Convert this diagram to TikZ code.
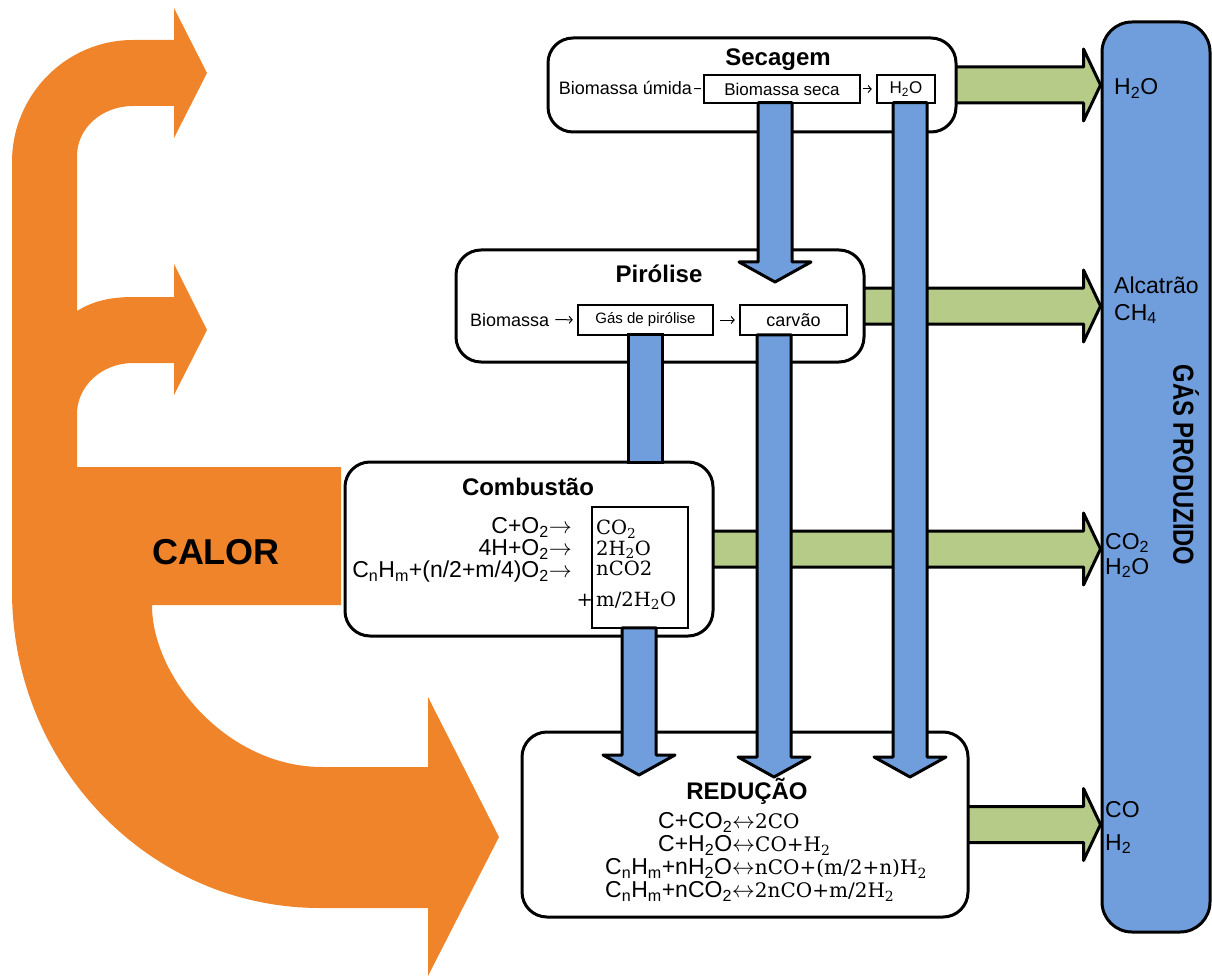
\documentclass[tikz,border=0pt]{standalone}
\usepackage{fix-cm}
\usepackage[no-math]{fontspec}
\setmainfont{Liberation Sans}
\newfontfamily\eqserif{DejaVu Serif}[Scale=0.87]
\usetikzlibrary{arrows.meta,calc}

\definecolor{heatorange}{RGB}{240,132,42}
\definecolor{gasblue}{RGB}{112,158,220}
\definecolor{flowgreen}{RGB}{183,203,136}

\pgfdeclarelayer{back}
\pgfsetlayers{back,main}

\tikzset{
  stage/.style={draw,line width=3pt,rounded corners=25pt,fill=white,inner sep=0pt},
  part/.style={draw,line width=2.5pt,fill=white,inner sep=0pt,minimum height=28pt,font=\fontsize{17}{20}\selectfont},
  stagetitle/.style={anchor=base,inner sep=0pt,font=\fontsize{24}{28}\selectfont\bfseries},
  txt/.style={inner sep=0pt,font=\fontsize{18}{21}\selectfont},
  eqn/.style={inner sep=0pt,font=\fontsize{23}{22}\selectfont},
  gaslabel/.style={anchor=base west,inner sep=0pt,font=\fontsize{23}{26}\selectfont},
  link/.style={line width=1pt,shorten <=2pt,shorten >=2pt},
  feed/.style={line width=1pt,shorten <=6pt,shorten >=4pt,-{Straight Barb[length=3pt,width=7pt]}},
  downflow/.style={draw=black,fill=gasblue,line width=3pt,line join=round,
    to path={let \p1=(\tikztostart), \p2=(\tikztotarget) in
      ({\x2-17pt},{\y1+1.5pt}) -- ({\x2-17pt},{\y2+20pt}) -- ({\x2-36pt},{\y2+20pt})
      -- (\x2,\y2) -- ({\x2+36pt},{\y2+20pt}) -- ({\x2+17pt},{\y2+20pt})
      -- ({\x2+17pt},{\y1+1.5pt}) -- cycle}},
  shaft/.style={draw=black,fill=gasblue,line width=3pt,
    to path={let \p1=(\tikztostart), \p2=(\tikztotarget) in
      ({\x1-17pt},{\y1+1.5pt}) rectangle ({\x1+17pt},{\y2-1.5pt})}},
  outflow/.style={draw=black,fill=flowgreen,line width=3pt,line join=round,
    to path={let \p1=(\tikztostart), \p2=(\tikztotarget) in
      ({\x1-6pt},{\y1+18pt}) -- ({\x2-17pt},{\y1+18pt}) -- ({\x2-17pt},{\y1+36pt})
      -- (\x2,\y1) -- ({\x2-17pt},{\y1-36pt}) -- ({\x2-17pt},{\y1-18pt})
      -- ({\x1-6pt},{\y1-18pt}) -- cycle}}
}

\begin{document}
\begin{tikzpicture}[x=1pt,y=-1pt]
\useasboundingbox (0,0) rectangle (1212,976);

%heat
\fill[heatorange] (207,73) -- (174,8) -- (174,40) -- (133,40)
  .. controls (66,40) and (12,95) .. (12,162) -- (12,591)
  .. controls (12,766) and (150,908) .. (320,908) -- (428,908) -- (428,976)
  -- (499,837) -- (428,697) -- (428,767) -- (322,767)
  .. controls (228,767) and (152,678) .. (152,605) -- (341,605) -- (341,467)
  -- (77,467) -- (77,414) .. controls (77,386) and (102,363) .. (133,363)
  -- (174,363) -- (174,395) -- (207,330) -- (174,264) -- (174,297) -- (133,297)
  .. controls (106,297) and (90,303) .. (77,311) -- (77,156)
  .. controls (77,128) and (102,106) .. (133,106) -- (174,106) -- (174,138) -- cycle;
\node[font=\fontsize{36}{40}\selectfont\bfseries] (calor) at (216,552) {CALOR};

%gas column
\node[draw,fill=gasblue,line width=3pt,rounded corners=30pt,minimum width=108pt,minimum height=910pt] (gas) at (1156,477) {};
\node[rotate=-90,font=\fontsize{29}{32}\selectfont\bfseries] (gastitle) at (1186,465) {\scalebox{0.82}[1]{GÁS PRODUZIDO}};

%secagem
\node[stage,minimum width=408pt,minimum height=94pt] (sec) at (752,85) {};
\node[stagetitle] (sectitle) at (778,66) {Secagem};
\node[txt,anchor=base east] (umida) at (692,95) {Biomassa úmida};
\node[part,minimum width=156pt] (bseca) at (782,89) {Biomassa seca};
\node[part,minimum width=58pt] (agua) at (906,89) {H\textsubscript{2}O};
\draw[link] (umida) -- (bseca);
\draw[feed,shorten <=2pt] (bseca) -- (agua);

%pirolise
\node[stage,minimum width=408pt,minimum height=112pt] (pir) at (660,306) {};
\node[stagetitle] (pirtitle) at (659,283) {Pirólise};
\node[txt,anchor=base west] (biom) at (470,326) {Biomassa};
\node[part,minimum width=135pt,minimum height=30pt,font=\fontsize{15}{18}\selectfont] (gasp) at (645.5,320) {Gás de pirólise};
\node[part,minimum width=107pt,minimum height=30pt,font=\fontsize{18}{21}\selectfont] (carvao) at (793.5,320) {carvão};
\draw[feed] (biom) -- (gasp);
\draw[feed] (gasp) -- (carvao);

%combustao
\node[stage,minimum width=368pt,minimum height=174pt] (comb) at (529,549) {};
\node[stagetitle] (combtitle) at (528,495) {Combustão};
\node[part,minimum width=96pt,minimum height=121pt] (prod) at (640,567.5) {};
\node[eqn,anchor=east,align=right] (reag) at (572,550)
  {C+O\textsubscript{2}$\rightarrow$\\4H+O\textsubscript{2}$\rightarrow$\\C\textsubscript{n}H\textsubscript{m}+(n/2+m/4)O\textsubscript{2}$\rightarrow$};
\node[eqn,anchor=west,align=left,font=\fontsize{22.5}{20.5}\selectfont\eqserif] (prodtxt) at (596,565)
  {CO\textsubscript{2}\\ 2H\textsubscript{2}O\\ nCO2\\[10pt] \llap{+\,}m/2H\textsubscript{2}O};

%reducao
\node[stage,minimum width=446pt,minimum height=185pt] (red) at (745,824.5) {};
\node[stagetitle] (redtitle) at (747,799) {REDUÇÃO};
\node[eqn,anchor=west,align=left,font=\fontsize{23}{23}\selectfont] (reac) at (605,857)
  {\hspace*{53pt}C+CO\textsubscript{2}$\leftrightarrow${\eqserif 2CO}\\
   \hspace*{53pt}C+H\textsubscript{2}O$\leftrightarrow${\eqserif CO+H\textsubscript{2}}\\
   C\textsubscript{n}H\textsubscript{m}+nH\textsubscript{2}O$\leftrightarrow${\eqserif nCO+(m/2+n)H\textsubscript{2}}\\
   C\textsubscript{n}H\textsubscript{m}+nCO\textsubscript{2}$\leftrightarrow${\eqserif 2nCO+m/2H\textsubscript{2}}};

%gas out
\begin{pgfonlayer}{back}
\draw[outflow] (sec.east) to (gas.west);
\draw[outflow] (pir.east) to (gas.west);
\draw[outflow] (comb.east) to (gas.west);
\draw[outflow] (red.east) to (gas.west);
\end{pgfonlayer}

%solids and vapours down
\coordinate (tipa) at (775,282);
\coordinate (tipb) at (910,777);
\coordinate (tipc) at (774,777);
\coordinate (tipd) at (639,775);
\draw[shaft] (gasp.south) to (gasp.south |- comb.north);
\draw[downflow] (bseca.south) to (tipa);
\draw[downflow] (agua.south) to (tipb);
\draw[downflow] (carvao.south) to (tipc);
\draw[downflow] (prod.south) to (tipd);

%gas labels
\node[gaslabel] (l1) at (1114,95) {H\textsubscript{2}O};
\node[gaslabel] (l2) at (1114,294) {Alcatrão};
\node[gaslabel] (l3) at (1114,320) {CH\textsubscript{4}};
\node[gaslabel] (l4) at (1105,549) {CO\textsubscript{2}};
\node[gaslabel] (l5) at (1105,574) {H\textsubscript{2}O};
\node[gaslabel] (l6) at (1105,817) {CO};
\node[gaslabel] (l7) at (1105,850) {H\textsubscript{2}};
\end{tikzpicture}
\end{document}
